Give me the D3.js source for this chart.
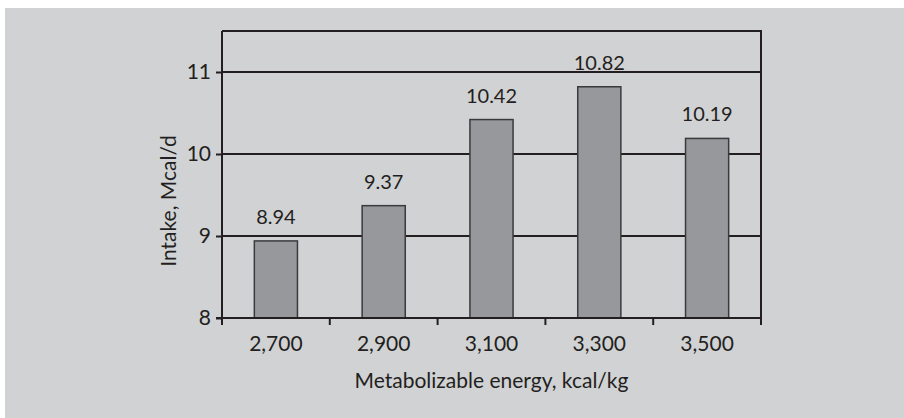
<!DOCTYPE html>
<html>
<head>
<meta charset="utf-8">
<script src="https://cdn.jsdelivr.net/npm/d3@7"></script>
<style>
  html, body { margin: 0; padding: 0; background: #ffffff; }
  svg { display: block; }
  text { font-family: Lato, "Open Sans", sans-serif; fill: #231f20; }
</style>
</head>
<body>
<svg id="chart" width="904" height="418"></svg>
<script>
// Feed intake by dietary metabolizable energy level
const categories = ["2,700", "2,900", "3,100", "3,300", "3,500"];
const intake = [8.94, 9.37, 10.42, 10.82, 10.19];
const yTicks = [8, 9, 10, 11];
const yDomain = [8, 11.5];
const xTitle = "Metabolizable energy, kcal/kg";
const yTitle = "Intake, Mcal/d";

const W = 904, H = 418;
const plot = { left: 222, right: 761, top: 31, bottom: 318 };

const svg = d3.select("#chart");

// panel background
svg.append("rect")
  .attr("x", 5).attr("y", 8)
  .attr("width", W - 5).attr("height", H - 8)
  .attr("fill", "#d1d2d4");

const x = d3.scaleBand()
  .domain(categories)
  .range([plot.left, plot.right])
  .paddingInner(0.6)
  .paddingOuter(0.3);

const y = d3.scaleLinear()
  .domain(yDomain)
  .range([plot.bottom, plot.top]);

// horizontal gridlines
svg.append("g")
  .selectAll("line")
  .data(yTicks.filter(d => d > yDomain[0]))
  .join("line")
  .attr("x1", plot.left).attr("x2", plot.right)
  .attr("y1", d => y(d)).attr("y2", d => y(d))
  .attr("stroke", "#231f20")
  .attr("stroke-width", 2);

// top and right frame
svg.append("path")
  .attr("d", `M${plot.left},${plot.top}H${plot.right}V${plot.bottom}`)
  .attr("fill", "none")
  .attr("stroke", "#231f20")
  .attr("stroke-width", 2);

// bars
svg.append("g")
  .selectAll("rect")
  .data(categories.map((c, i) => ({ c, v: intake[i] })))
  .join("rect")
  .attr("x", d => x(d.c))
  .attr("width", x.bandwidth())
  .attr("y", d => y(d.v))
  .attr("height", d => y(yDomain[0]) - y(d.v))
  .attr("fill", "#97989c")
  .attr("stroke", "#3a3a3c")
  .attr("stroke-width", 1.5);

// value labels
svg.append("g")
  .selectAll("text")
  .data(categories.map((c, i) => ({ c, v: intake[i] })))
  .join("text")
  .attr("x", d => x(d.c) + x.bandwidth() / 2)
  .attr("y", d => y(d.v) - 17)
  .attr("text-anchor", "middle")
  .attr("font-size", 20)
  .text(d => d.v.toFixed(2));

// y axis
const yAxis = svg.append("g")
  .attr("transform", `translate(${plot.left},0)`)
  .call(d3.axisLeft(y).tickValues(yTicks).tickSize(6).tickPadding(5).tickFormat(d3.format("d")));
yAxis.select(".domain").attr("stroke", "#231f20").attr("stroke-width", 2).attr("d", `M0,${plot.top}V${plot.bottom}`);
yAxis.selectAll(".tick line").attr("stroke", "#231f20").attr("stroke-width", 2);
yAxis.selectAll(".tick text").attr("font-size", 21).attr("font-family", "Lato, sans-serif").attr("fill", "#231f20");

// x axis: ticks sit at the band boundaries
const step = x.step();
const boundaries = d3.range(categories.length + 1).map(i => plot.left + i * (plot.right - plot.left) / categories.length);
const xAxisG = svg.append("g");
xAxisG.append("line")
  .attr("x1", plot.left - 6).attr("x2", plot.right)
  .attr("y1", plot.bottom).attr("y2", plot.bottom)
  .attr("stroke", "#231f20").attr("stroke-width", 2);
xAxisG.selectAll("line.tick")
  .data(boundaries)
  .join("line")
  .attr("class", "tick")
  .attr("x1", d => d).attr("x2", d => d)
  .attr("y1", plot.bottom).attr("y2", plot.bottom + 7)
  .attr("stroke", "#231f20").attr("stroke-width", 2);
xAxisG.selectAll("text")
  .data(categories)
  .join("text")
  .attr("x", d => x(d) + x.bandwidth() / 2)
  .attr("y", 351)
  .attr("text-anchor", "middle")
  .attr("font-size", 21)
  .text(d => d);

// axis titles
svg.append("text")
  .attr("x", (plot.left + plot.right) / 2)
  .attr("y", 388)
  .attr("text-anchor", "middle")
  .attr("font-size", 21)
  .text(xTitle);

svg.append("text")
  .attr("transform", "translate(176,201) rotate(-90)")
  .attr("text-anchor", "middle")
  .attr("font-size", 21)
  .text(yTitle);
</script>
</body>
</html>
